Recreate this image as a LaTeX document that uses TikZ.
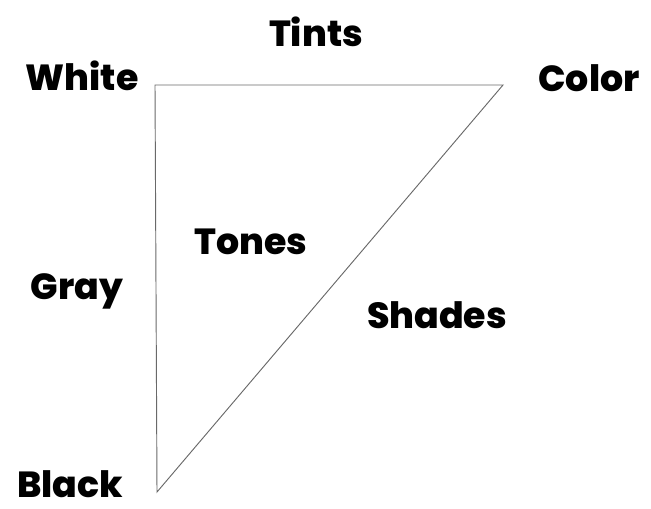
\documentclass[tikz,border=0pt]{standalone}
\usepackage{fontspec}
\setmainfont{Poppins}[BoldFont={Poppins ExtraBold}]
\usetikzlibrary{positioning}
\definecolor{edgeGray}{RGB}{105,105,105}

\begin{document}
\begin{tikzpicture}[
    x=0.03cm, y=-0.03cm,
    lbl/.style={anchor=base, inner sep=0pt, font=\fontsize{31}{36}\selectfont\bfseries},
    edge/.style={draw=edgeGray, line width=0.8pt}
  ]
  \useasboundingbox (0,0) rectangle (651,508);

  \coordinate (white) at (155,85);
  \coordinate (color) at (503,85);
  \coordinate (black) at (157,492);

  \draw[edge] (white) -- (color) -- (black) -- cycle;

  \node[lbl] (wlab) at (82,91)  {White};
  \node[lbl] (clab) at (589,92) {Color};
  \node[lbl] (blab) at (70,497) {Black};
  \node[lbl] (tints) at (316,47) {Tints};
  \node[lbl] (gray) at (77,299) {Gray};
  \node[lbl] (tones) at (251,254) {Tones};
  \node[lbl] (shades) at (437,328) {Shades};
\end{tikzpicture}
\end{document}
